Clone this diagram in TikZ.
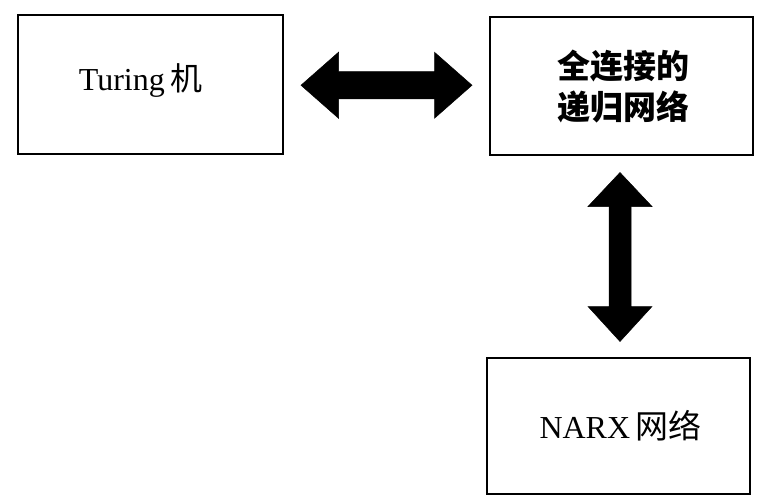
\documentclass[tikz,border=0pt]{standalone}
\usepackage{fontspec}
\setmainfont{Liberation Serif}
\newfontfamily\cjk{Noto Sans CJK SC}
\usetikzlibrary{calc}
\tikzset{
  box/.style={draw=black, line width=1.8pt, fill=white, minimum width=#1, inner sep=0pt},
  lbl/.style={font=\fontsize{32}{36}\selectfont, text=black},
  bigarrow/.style={fill=black, draw=black, line width=0.5pt, line join=miter}
}
\begin{document}
\begin{tikzpicture}[x=1pt, y=-1pt]
\useasboundingbox (0,0) rectangle (760,495);
\node[box=265pt, minimum height=139pt] (L) at (150.5,84.5) {};
\node[lbl] (Lt) at ($(L.center)+(-10,-4)$) {Turing\,{\cjk\fontsize{32}{36}\selectfont 机}};
\node[box=263pt, minimum height=138pt] (R) at (621.5,86) {};
\node[lbl, align=center, font=\cjk\bfseries\fontsize{33}{41}\selectfont] (Rt) at ($(R.center)+(2,1)$) {全连接的\\递归网络};
\node[box=263pt, minimum height=136pt] (N) at (618.5,426) {};
\node[lbl] (Nt) at ($(N.center)+(2,0)$) {NARX\,{\cjk\fontsize{33}{36}\selectfont 网络}};
% horizontal double arrow
\coordinate (M) at ($(L.east)!0.5!(R.west)$);
\fill[bigarrow] ($(M)+(-85.5,0)$) -- ($(M)+(-48,-33)$) -- ($(M)+(-48,-13.5)$) -- ($(M)+(48,-13.5)$) -- ($(M)+(48,-33)$) -- ($(M)+(85.5,0)$) -- ($(M)+(48,33)$) -- ($(M)+(48,13.5)$) -- ($(M)+(-48,13.5)$) -- ($(M)+(-48,33)$) -- cycle;
% vertical double arrow
\coordinate (V) at ($(R.south)!0.5!(N.north)$);
\fill[bigarrow] ($(V)+(0,-84)$) -- ($(V)+(32,-50)$) -- ($(V)+(11,-50)$) -- ($(V)+(11,50)$) -- ($(V)+(32,50)$) -- ($(V)+(0,85)$) -- ($(V)+(-32,50)$) -- ($(V)+(-11,50)$) -- ($(V)+(-11,-50)$) -- ($(V)+(-32,-50)$) -- cycle;
\end{tikzpicture}
\end{document}
